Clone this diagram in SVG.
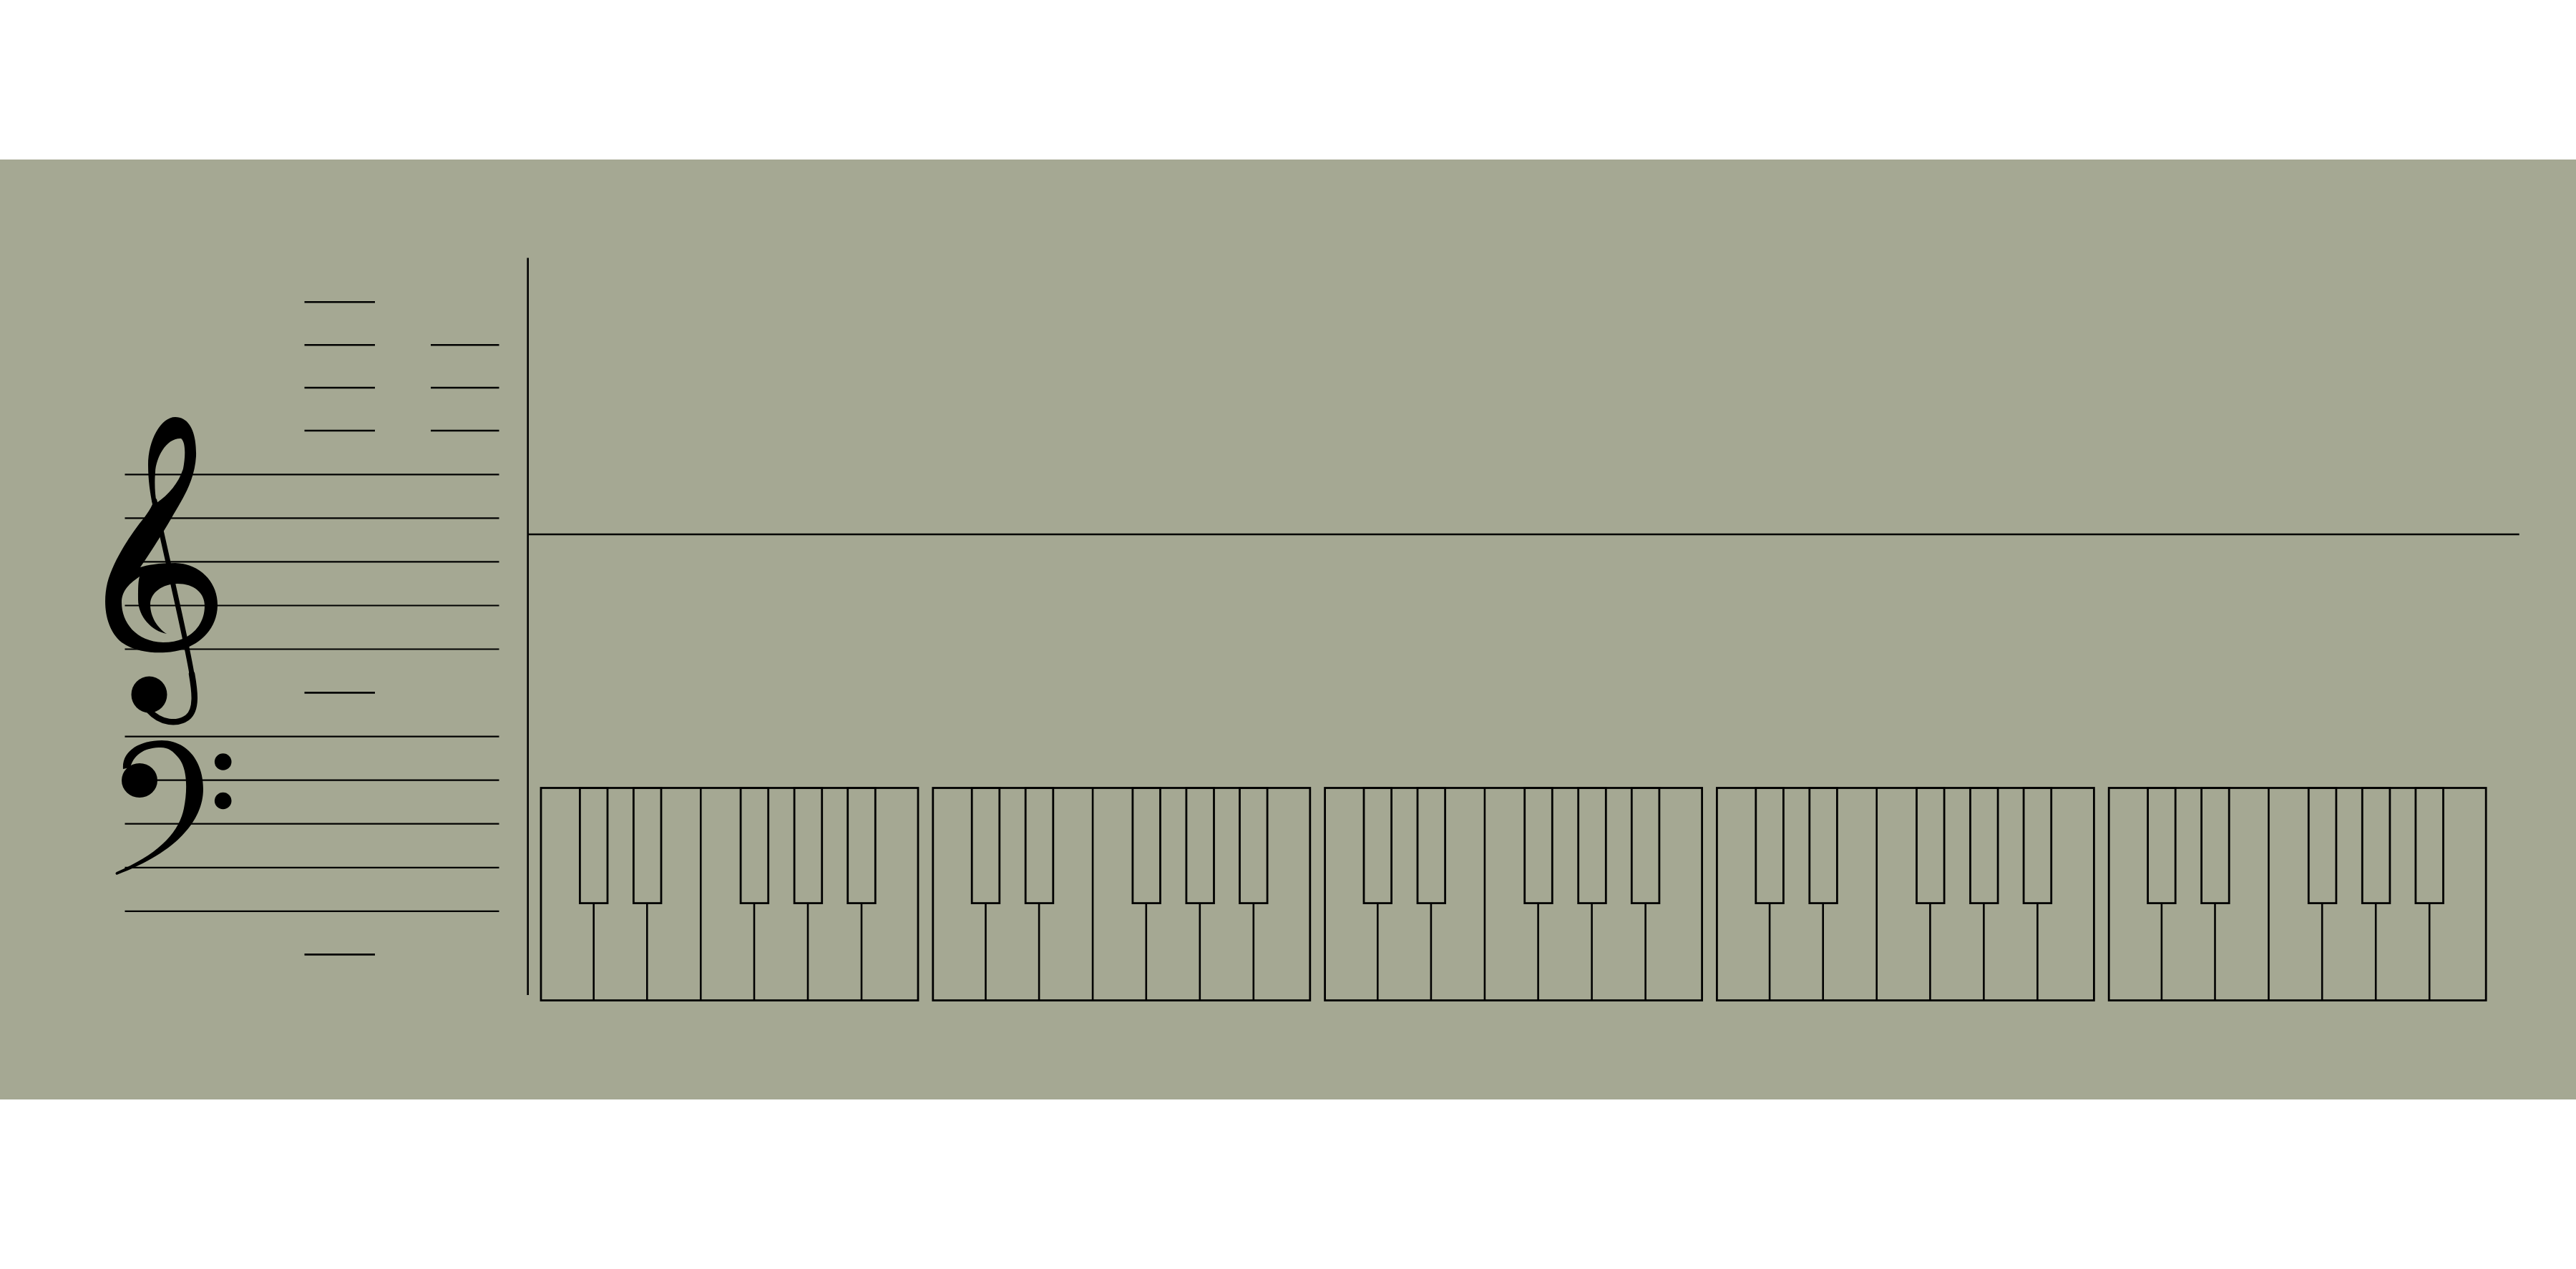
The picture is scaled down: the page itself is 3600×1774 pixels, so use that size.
<svg xmlns="http://www.w3.org/2000/svg" width="3600" height="1774" viewBox="0 0 3600 1774">
  <defs>
    <style>
      .staff { stroke: #000; stroke-width: 2.2; fill: none; }
      .ledger { stroke: #000; stroke-width: 2.6; fill: none; }
      .bar { stroke: #000; stroke-width: 2.6; fill: none; }
      .glyph { fill: #000; stroke: none; }
      .kb { fill: none; stroke: #000; stroke-width: 2.8; }
      .div { stroke: #000; stroke-width: 2.6; }
    </style>
    <g id="octave">
      <rect class="kb" x="0" y="1101.5" width="527" height="297"/>
      <line class="div" x1="73.7" y1="1262.6" x2="73.7" y2="1398"/>
      <line class="div" x1="148.3" y1="1262.6" x2="148.3" y2="1398"/>
      <line class="div" x1="223.3" y1="1102" x2="223.3" y2="1398"/>
      <line class="div" x1="298" y1="1262.6" x2="298" y2="1398"/>
      <line class="div" x1="373" y1="1262.6" x2="373" y2="1398"/>
      <line class="div" x1="448" y1="1262.6" x2="448" y2="1398"/>
      <rect class="kb" x="54.4" y="1101.5" width="38.6" height="161.1"/>
      <rect class="kb" x="129.4" y="1101.5" width="38.6" height="161.1"/>
      <rect class="kb" x="279.1" y="1101.5" width="38.6" height="161.1"/>
      <rect class="kb" x="354.1" y="1101.5" width="38.6" height="161.1"/>
      <rect class="kb" x="428.7" y="1101.5" width="38.6" height="161.1"/>
    </g>
  </defs>

  <rect id="background" x="0" y="223" width="3600" height="1314" fill="#a5a893"/>

  <g id="staff">
    <line class="staff" x1="174.5" y1="663.3" x2="697.5" y2="663.3"/>
    <line class="staff" x1="174.5" y1="724.4" x2="697.5" y2="724.4"/>
    <line class="staff" x1="174.5" y1="785.4" x2="697.5" y2="785.4"/>
    <line class="staff" x1="174.5" y1="846.5" x2="697.5" y2="846.5"/>
    <line class="staff" x1="174.5" y1="907.5" x2="697.5" y2="907.5"/>
    <line class="staff" x1="174.5" y1="1029.6" x2="697.5" y2="1029.6"/>
    <line class="staff" x1="174.5" y1="1090.7" x2="697.5" y2="1090.7"/>
    <line class="staff" x1="174.5" y1="1151.7" x2="697.5" y2="1151.7"/>
    <line class="staff" x1="174.5" y1="1212.8" x2="697.5" y2="1212.8"/>
    <line class="staff" x1="174.5" y1="1273.8" x2="697.5" y2="1273.8"/>
  </g>

  <g id="ledger-lines">
    <line class="ledger" x1="425.5" y1="422.3" x2="524" y2="422.3"/>
    <line class="ledger" x1="425.5" y1="482.3" x2="524" y2="482.3"/>
    <line class="ledger" x1="425.5" y1="542" x2="524" y2="542"/>
    <line class="ledger" x1="425.5" y1="602" x2="524" y2="602"/>
    <line class="ledger" x1="602" y1="482.3" x2="697.5" y2="482.3"/>
    <line class="ledger" x1="602" y1="542" x2="697.5" y2="542"/>
    <line class="ledger" x1="602" y1="602" x2="697.5" y2="602"/>
    <line class="ledger" x1="425.5" y1="968.4" x2="524" y2="968.4"/>
    <line class="ledger" x1="425.5" y1="1334.4" x2="524" y2="1334.4"/>
  </g>

  <g id="treble-clef">
    <path class="glyph" fill-rule="evenodd" d="M 245 583 C 225 583 207 615 207 650 C 207 672 210 690 213 705 C 210 712 206 717 202 723 C 180 750 158 785 150 815 C 143 845 148 880 170 898 C 190 912 215 913 232 912 C 270 910 303 885 304 847 C 305 815 280 788 245 787 C 222 787 205 790 196 793 C 212 770 232 738 242 720 C 255 698 272 672 274 638 C 275 605 265 583 245 583 Z M 253 613 C 260 618 259 640 256 655 C 250 675 235 692 219 703 C 216 690 216 672 217 660 C 218 640 232 612 253 613 Z M 195 806 C 182 815 170 825 170 842 C 170 870 190 897 228 898 C 265 898 286 875 286 847 C 286 828 270 816 248 816 C 228 816 210 828 210 845 C 210 862 220 878 233 886 C 212 882 193 862 193 838 C 193 822 193 813 195 806 Z"/>
    <path d="M 216 700 C 226 748 250 850 262 910 C 265 925 267 935 268 942" fill="none" stroke="#000" stroke-width="7" stroke-linecap="round"/>
    <path d="M 268 942 C 272 965 276 992 262 1003 C 248 1013 225 1012 208 993" fill="none" stroke="#000" stroke-width="8.5" stroke-linecap="round"/>
    <ellipse class="glyph" cx="208.5" cy="971" rx="25" ry="25.5"/>
  </g>

  <g id="bass-clef">
    <path class="glyph" d="M 172 1075 C 170 1050 195 1035 226 1035 C 262 1035 284 1065 284 1103 C 284 1145 250 1190 163 1223 C 161 1222 161 1220 163 1219 C 220 1195 250 1165 257 1130 C 262 1105 262 1075 250 1060 C 242 1050 235 1045 225 1045 C 205 1045 188 1052 182 1073 Z"/>
    <ellipse class="glyph" cx="195" cy="1091" rx="25" ry="24"/>
    <circle class="glyph" cx="311.7" cy="1065" r="11.8"/>
    <circle class="glyph" cx="311.7" cy="1119.5" r="11.8"/>
  </g>

  <g id="connectors">
    <line class="bar" x1="737.7" y1="360.5" x2="737.7" y2="1391"/>
    <line class="bar" x1="737.7" y1="747" x2="3520.7" y2="747"/>
  </g>

  <g id="keyboard">
    <g id="octave-1"><use href="#octave" x="756"/></g>
    <g id="octave-2"><use href="#octave" x="1303.8"/></g>
    <g id="octave-3"><use href="#octave" x="1851.6"/></g>
    <g id="octave-4"><use href="#octave" x="2399.4"/></g>
    <g id="octave-5"><use href="#octave" x="2947.2"/></g>
  </g>
</svg>
